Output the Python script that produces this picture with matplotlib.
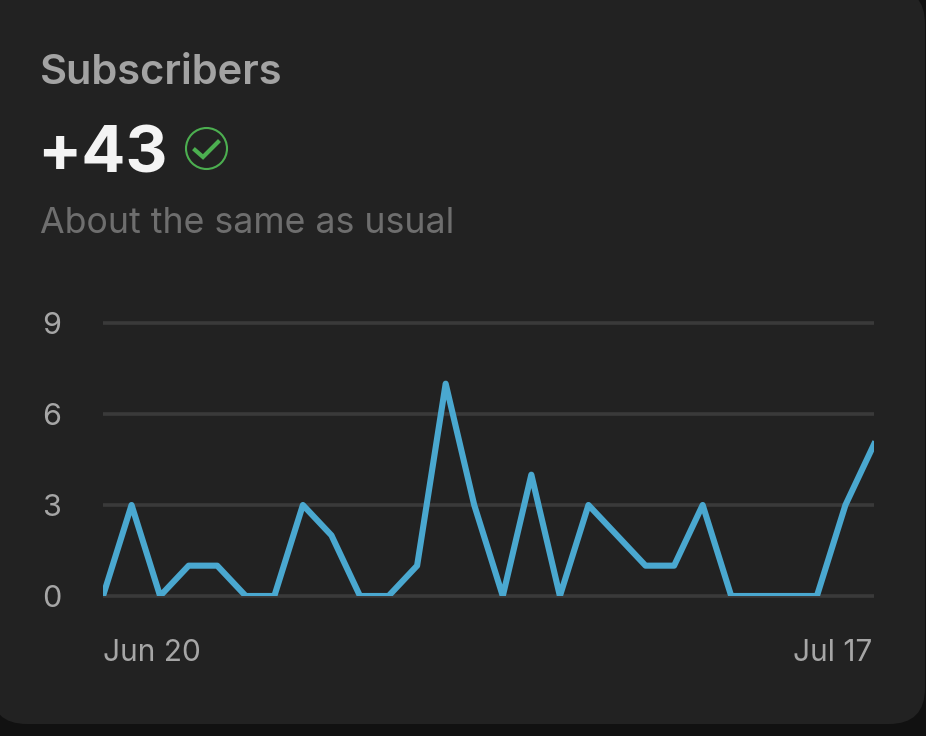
from matplotlib import pyplot as plt
from matplotlib.patches import Circle, FancyBboxPatch
from matplotlib.transforms import ScaledTranslation

W, H = 926, 736

# daily new subscribers, Jun 20 -> Jul 17
days = list(range(28))
subscribers = [0, 3, 0, 1, 1, 0, 0, 3, 2, 0, 0, 1, 7, 3, 0, 4, 0, 3, 2, 1, 1, 3, 0, 0, 0, 0, 3, 5]
y_ticks = [0, 3, 6, 9]
x_labels = ["Jun 20", "Jul 17"]

plt.rcParams['font.family'] = ['Inter', 'DejaVu Sans']

fig = plt.figure(figsize=(W / 100, H / 100), dpi=100, facecolor="#111111")

# background layer in pixel coords, for the card, header and icon
bg = fig.add_axes([0, 0, 1, 1])
bg.set_xlim(0, W)
bg.set_ylim(H, 0)
bg.axis('off')

card = FancyBboxPatch((-9, -12), 934, 736, boxstyle="round,pad=0,rounding_size=36",
                      facecolor="#222222", edgecolor="none")
bg.add_patch(card)

bg.text(40, 69, "Subscribers", color="#a3a3a3", fontsize=30, fontweight="semibold", va="center_baseline")
bg.text(37, 149, "+43", color="#f4f4f4", fontsize=47, fontweight="bold", va="center_baseline")
bg.text(40, 220, "About the same as usual", color="#6e6e6e", fontsize=25.7, va="center_baseline")

bg.add_patch(Circle((206.5, 148.5), 20.5, facecolor="none", edgecolor="#4caf50", lw=1.5))
bg.plot([195, 203, 218], [150, 157, 142], color="#4caf50", lw=3.0, solid_joinstyle="miter")

# chart
ax = fig.add_axes([103 / W, 1 - 596 / H, 771 / W, 273 / H], facecolor="none")
ax.set_xlim(days[0], days[-1])
ax.set_ylim(0, 9)
for tick in y_ticks:
    ax.axhline(tick, color="#3a3a3a", lw=2.6, clip_on=False, solid_capstyle="butt", zorder=1)
ax.plot(days, subscribers, color="#4aa8d0", lw=4.4, solid_joinstyle="round", zorder=3)

for side in ax.spines.values():
    side.set_visible(False)
ax.set_yticks(y_ticks)
ax.set_xticks([days[0], days[-1]], x_labels)
ax.tick_params(axis='y', length=0, pad=30, labelsize=22, labelcolor="#a6a6a6")
ax.tick_params(axis='x', length=0, pad=31, labelsize=21.5, labelcolor="#a6a6a6")
first, last = ax.get_xticklabels()
first.set_ha("left")
last.set_ha("right")
last.set_transform(last.get_transform() + ScaledTranslation(-2 / 100, 0, fig.dpi_scale_trans))

fig.savefig("out.png", dpi=100, facecolor=fig.get_facecolor())
